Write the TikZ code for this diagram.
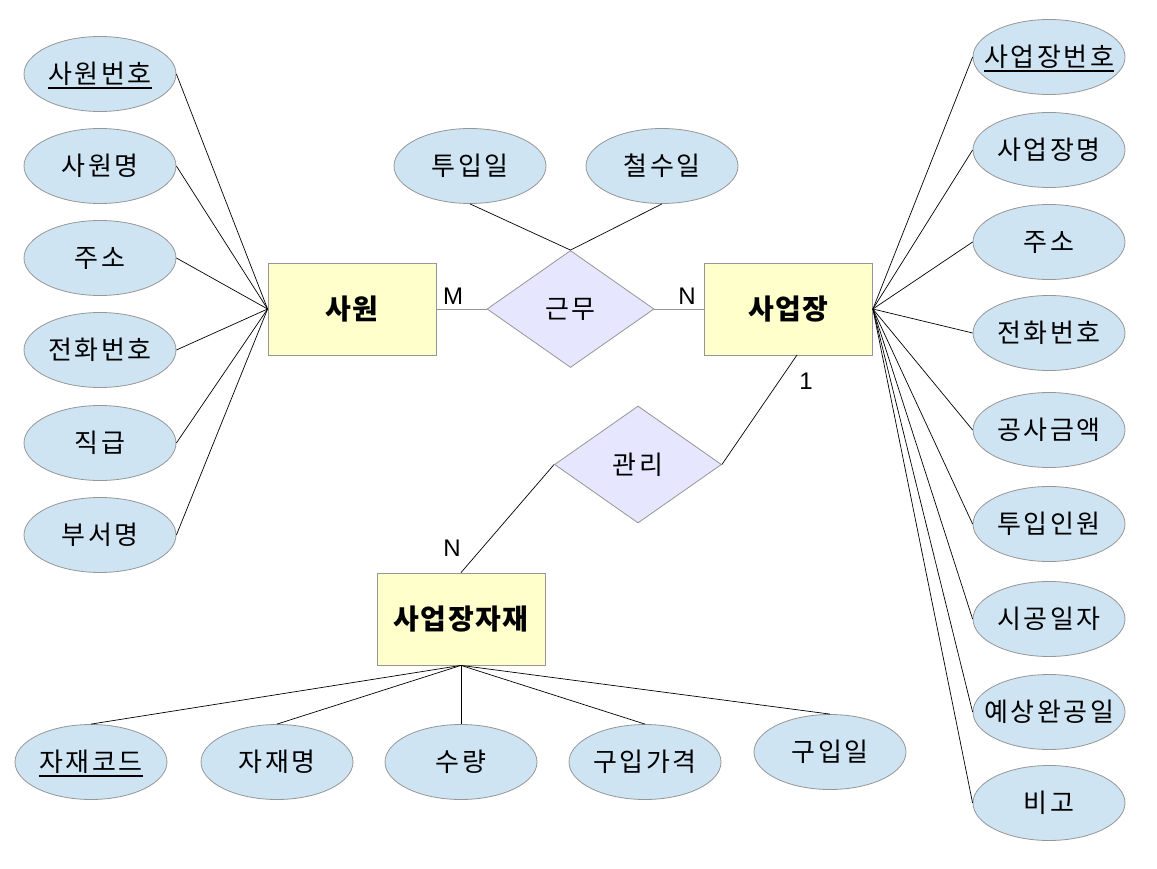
\documentclass[tikz,border=0pt]{standalone}
\usepackage{fontspec}
\setmainfont{Liberation Sans}
\newfontfamily\kr[LetterSpace=10]{Noto Sans CJK KR}
\newfontfamily\krb[LetterSpace=5]{Noto Sans CJK KR}
\usetikzlibrary{shapes.geometric}
\definecolor{attrblue}{RGB}{206,228,243}
\definecolor{entyellow}{RGB}{255,255,204}
\definecolor{relpurple}{RGB}{230,230,255}
\definecolor{edgegray}{RGB}{150,150,150}
\newcommand\attxt[1]{\makebox[0pt]{#1}}
\newcommand\keyul[1]{\makebox[0pt]{\setbox0=\hbox{#1}\copy0\llap{\smash{\rule[-5pt]{\wd0}{2pt}}}}}
\begin{document}
\begin{tikzpicture}[x=1pt,y=-1pt,
  attr/.style={ellipse, draw=edgegray, fill=attrblue, line width=0.8pt, minimum width=152pt, minimum height=75pt, inner sep=0pt, font=\kr\fontsize{26}{26}\selectfont},
  ent/.style={rectangle, draw=edgegray, fill=entyellow, line width=0.8pt, minimum width=168pt, minimum height=92pt, inner sep=0pt, font=\krb\bfseries\fontsize{28}{28}\selectfont},
  rel/.style={diamond, draw=edgegray, fill=relpurple, line width=0.8pt, minimum width=167pt, minimum height=117pt, inner sep=0pt, font=\kr\fontsize{26}{26}\selectfont},
  conn/.style={draw=black, line width=0.7pt},
  relconn/.style={draw=edgegray, line width=0.8pt},
  card/.style={font=\fontsize{24}{24}\selectfont, inner sep=0pt}]
\useasboundingbox (0,0) rectangle (1157,869);
% entities
\node[ent] (sw) at (352,309) {사원};
\node[ent] (sj) at (788.5,309) {사업장};
\node[ent] (jj) at (461,619) {사업장자재};
% relationships
\node[rel] (gm) at (570.5,309) {\attxt{근무}};
\node[rel] (gr) at (638,464.5) {\attxt{관리}};
% left attributes
\node[attr] (a1) at (100,74) {\keyul{사원번호}};
\node[attr] (a2) at (100,166) {\attxt{사원명}};
\node[attr] (a3) at (100,258) {\attxt{주소}};
\node[attr] (a4) at (100,350) {\attxt{전화번호}};
\node[attr] (a5) at (100,443) {\attxt{직급}};
\node[attr] (a6) at (100,535) {\attxt{부서명}};
% right attributes
\node[attr] (b1) at (1049,57) {\keyul{사업장번호}};
\node[attr] (b2) at (1049,150) {\attxt{사업장명}};
\node[attr] (b3) at (1049,242) {\attxt{주소}};
\node[attr] (b4) at (1049,333) {\attxt{전화번호}};
\node[attr] (b5) at (1049,430) {\attxt{공사금액}};
\node[attr] (b6) at (1049,524) {\attxt{투입인원}};
\node[attr] (b7) at (1049,619) {\attxt{시공일자}};
\node[attr] (b8) at (1049,712) {\attxt{예상완공일}};
\node[attr] (b9) at (1049,803) {\attxt{비고}};
% relationship attributes
\node[attr] (r1) at (470,166) {\attxt{투입일}};
\node[attr] (r2) at (662,166) {\attxt{철수일}};
% bottom attributes
\node[attr] (c1) at (91,762) {\keyul{자재코드}};
\node[attr] (c2) at (277,762) {\attxt{자재명}};
\node[attr] (c3) at (461,762) {\attxt{수량}};
\node[attr] (c4) at (645,762) {\attxt{구입가격}};
\node[attr] (c5) at (830,752) {\attxt{구입일}};
% connectors
\foreach \a in {a1,a2,a3,a4,a5,a6} \draw[conn] (\a.east) -- (sw.west);
\foreach \b in {b1,b2,b3,b4,b5,b6,b7,b8,b9} \draw[conn] (\b.west) -- (sj.east);
\foreach \c in {c1,c2,c3,c4,c5} \draw[conn] (\c.north) -- (jj.south);
\draw[conn] (r1.south) -- (gm.north);
\draw[conn] (r2.south) -- (gm.north);
\draw[relconn] (sw.east) -- (gm.west);
\draw[relconn] (gm.east) -- (sj.west);
\coordinate (sjb) at (797,355);
\draw[conn] (gr.east) -- (sjb);
\draw[conn] (gr.west) -- (jj.north);
% cardinalities
\node[card] (m1) at (453,296) {M};
\node[card] (n1) at (687,296) {N};
\node[card] (o1) at (806,381) {1};
\node[card] (n2) at (452,548) {N};
\end{tikzpicture}
\end{document}
